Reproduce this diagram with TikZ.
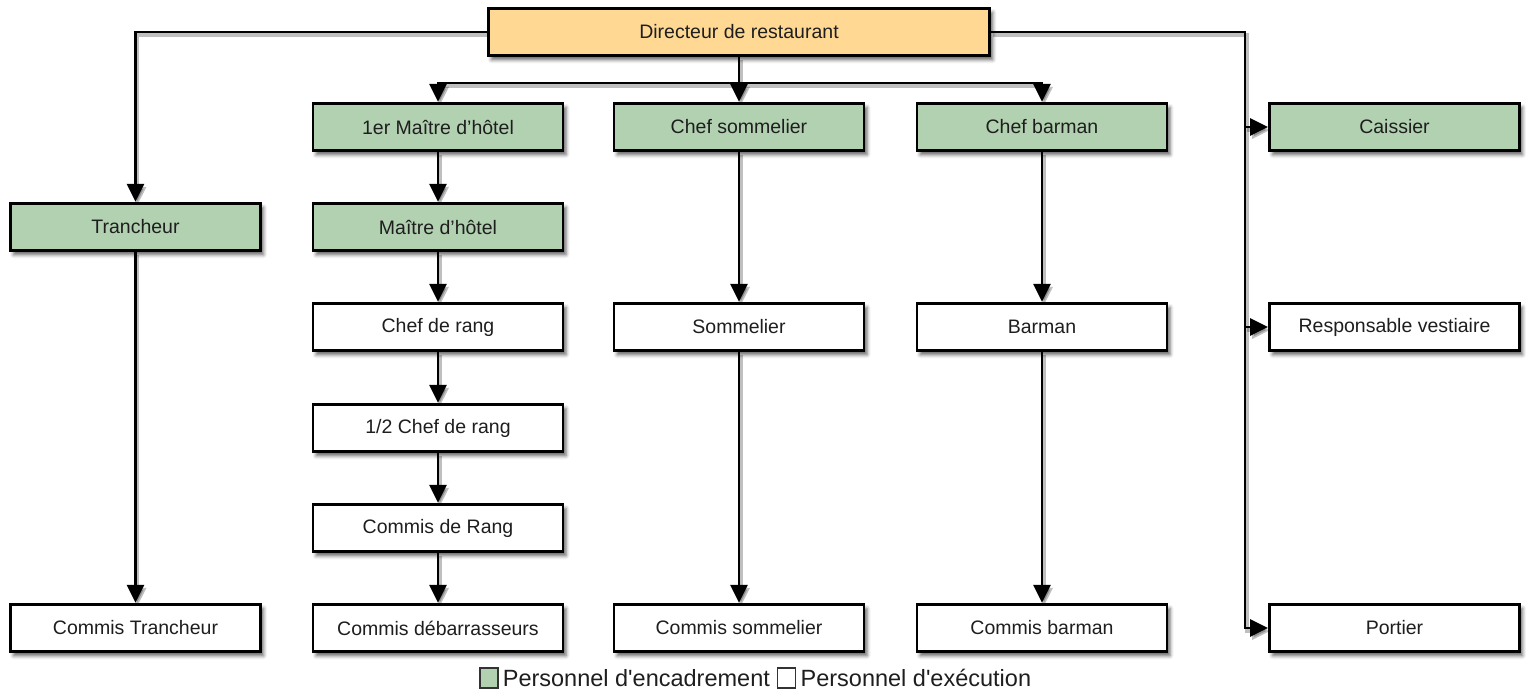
\documentclass[tikz,border=0pt]{standalone}
\usepackage{fontspec}
\setmainfont{Liberation Sans}
\newfontfamily\legfont{Liberation Sans}[Ligatures=TeXOff]
\usetikzlibrary{arrows.meta,shadows.blur}
\definecolor{mgreen}{RGB}{178,209,177}
\definecolor{morange}{RGB}{255,217,148}
\definecolor{mtext}{RGB}{30,30,30}
\begin{document}
\begin{tikzpicture}[x=1pt,y=-1pt,
  box/.style={draw=black, line width=2.8pt, fill=white, minimum width=250pt, minimum height=47.5pt,
    inner sep=0pt, font=\fontsize{19.5}{23}\selectfont, text=mtext,
    blur shadow={shadow xshift=3pt, shadow yshift=-4pt, shadow blur radius=3.5pt, shadow opacity=60}},
  gbox/.style={box, fill=mgreen},
  lshadow/.style={preaction={draw=black, opacity=0.25, line width=3.5pt, transform canvas={shift={(2pt,-3pt)}}}},
  link/.style={line width=2.8pt, lshadow},
  conn/.style={line width=2.8pt, -{Triangle[length=18pt,width=17pt]}, lshadow},
  legsq/.style={draw=black!80, line width=1.3pt, minimum width=18pt, minimum height=20pt, inner sep=0pt},
  legtxt/.style={inner sep=0pt, font=\legfont\fontsize{23.5}{28}\selectfont, text=mtext}
]
\useasboundingbox (0,0) rectangle (1529,697);
% nodes
\node[box, fill=morange, minimum width=501.5pt] (dir) at (739,32) {Directeur de restaurant};
\node[gbox] (m1) at (438,127) {1er Maître d’hôtel};
\node[gbox] (cs) at (739,127) {Chef sommelier};
\node[gbox] (cb) at (1042,127) {Chef barman};
\node[gbox] (cai) at (1394.5,127) {Caissier};
\node[gbox] (tr) at (135.5,227) {Trancheur};
\node[gbox] (m2) at (438,227) {Maître d’hôtel};
\node[box] (cr) at (438,327) {Chef de rang};
\node[box] (som) at (739,327) {Sommelier};
\node[box] (bar) at (1042,327) {Barman};
\node[box] (rv) at (1394.5,327) {Responsable vestiaire};
\node[box] (dcr) at (438,428) {1/2 Chef de rang};
\node[box] (cdr) at (438,528) {Commis de Rang};
\node[box] (ctr) at (135.5,628) {Commis Trancheur};
\node[box] (cde) at (438,628) {Commis débarrasseurs};
\node[box] (cso) at (739,628) {Commis sommelier};
\node[box] (cba) at (1042,628) {Commis barman};
\node[box] (por) at (1394.5,628) {Portier};
% bus coordinates
\coordinate (cbus) at (739,83);
\coordinate (rtop) at (1245,32);
% connectors
\draw[conn] (dir.west) -| (tr.north);
\draw[conn] (dir.south) -- (cs.north);
\draw[conn] (cbus) -| (m1.north);
\draw[conn] (cbus) -| (cb.north);
\draw[conn] (dir.east) -- (rtop) |- (por.west);
\draw[conn] (rtop |- cai.west) -- (cai.west);
\draw[conn] (rtop |- rv.west) -- (rv.west);
\draw[conn] (tr) -- (ctr);
\draw[conn] (m1) -- (m2);
\draw[conn] (m2) -- (cr);
\draw[conn] (cr) -- (dcr);
\draw[conn] (dcr) -- (cdr);
\draw[conn] (cdr) -- (cde);
\draw[conn] (cs) -- (som);
\draw[conn] (som) -- (cso);
\draw[conn] (cb) -- (bar);
\draw[conn] (bar) -- (cba);
% legend
\node[legsq, fill=mgreen] (lg) at (489,678) {};
\node[legtxt, anchor=west] (lgt) at ([xshift=4pt]lg.east) {Personnel d'encadrement};
\node[legsq, fill=white, anchor=west] (lw) at ([xshift=7pt]lgt.east) {};
\node[legtxt, anchor=west] (lwt) at ([xshift=4pt]lw.east) {Personnel d'exécution};
\end{tikzpicture}
\end{document}
